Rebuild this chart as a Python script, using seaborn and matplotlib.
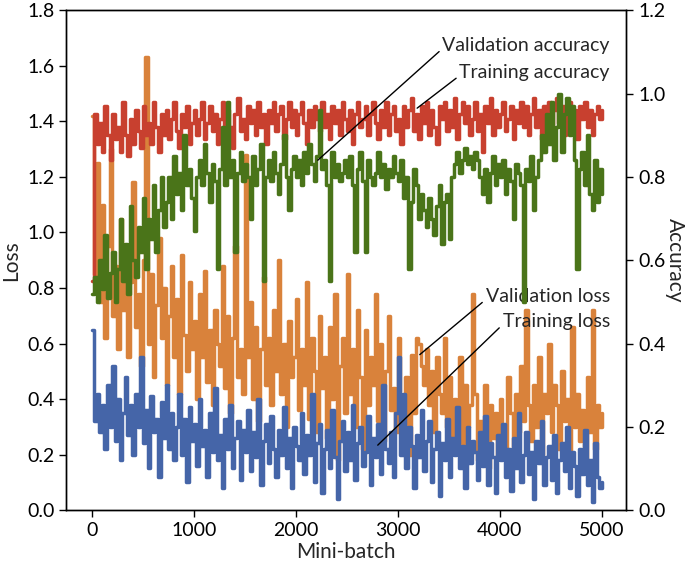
import numpy as np
import pandas as pd
import matplotlib
matplotlib.use('Agg')
import matplotlib.pyplot as plt
import seaborn as sns

# ===== Data (one value every 25 mini-batches) =====
STEP = 25

train_loss = [
    0.65, 0.32, 0.42, 0.28, 0.38, 0.22, 0.45, 0.30, 0.52, 0.25,
    0.40, 0.18, 0.35, 0.48, 0.27, 0.38, 0.20, 0.42, 0.30, 0.55,
    0.24, 0.36, 0.15, 0.41, 0.28, 0.33, 0.12, 0.39, 0.26, 0.45,
    0.22, 0.35, 0.18, 0.30, 0.42, 0.20, 0.33, 0.10, 0.37, 0.25,
    0.31, 0.16, 0.40, 0.23, 0.29, 0.12, 0.35, 0.21, 0.44, 0.18,
    0.27, 0.08, 0.33, 0.22, 0.38, 0.15, 0.26, 0.32, 0.11, 0.29,
    0.21, 0.36, 0.14, 0.28, 0.19, 0.40, 0.09, 0.25, 0.31, 0.17,
    0.34, 0.22, 0.12, 0.29, 0.20, 0.37, 0.15, 0.26, 0.08, 0.30,
    0.23, 0.18, 0.35, 0.13, 0.27, 0.20, 0.42, 0.10, 0.24, 0.31,
    0.06, 0.22, 0.29, 0.15, 0.36, 0.19, 0.04, 0.25, 0.32, 0.14,
    0.28, 0.18, 0.38, 0.11, 0.24, 0.30, 0.16, 0.21, 0.34, 0.09,
    0.26, 0.19, 0.31, 0.13, 0.45, 0.22, 0.17, 0.28, 0.12, 0.35,
    0.55, 0.20, 0.42, 0.15, 0.30, 0.23, 0.08, 0.27, 0.19, 0.36,
    0.14, 0.25, 0.32, 0.10, 0.22, 0.28, 0.05, 0.24, 0.18, 0.33,
    0.12, 0.26, 0.20, 0.37, 0.15, 0.23, 0.08, 0.30, 0.17, 0.25,
    0.21, 0.11, 0.28, 0.16, 0.34, 0.09, 0.24, 0.19, 0.06, 0.27,
    0.18, 0.31, 0.12, 0.22, 0.07, 0.26, 0.15, 0.35, 0.10, 0.20,
    0.28, 0.13, 0.21, 0.04, 0.25, 0.17, 0.32, 0.09, 0.19, 0.23,
    0.11, 0.27, 0.06, 0.18, 0.24, 0.14, 0.30, 0.08, 0.21, 0.16,
    0.05, 0.22, 0.13, 0.29, 0.09, 0.18, 0.03, 0.24, 0.12, 0.08,
    0.10,
]

val_loss = [
    1.42, 0.85, 1.25, 0.75, 1.10, 0.62, 0.95, 1.30, 0.70, 0.88,
    0.58, 1.05, 0.72, 0.92, 0.55, 0.82, 1.18, 0.66, 0.78, 0.52,
    0.90, 1.63, 0.60, 0.85, 0.48, 0.74, 0.98, 0.62, 0.80, 0.45,
    0.70, 0.88, 0.55, 0.76, 0.42, 0.92, 0.63, 0.50, 0.82, 0.58,
    0.68, 0.40, 0.78, 0.55, 0.86, 0.46, 0.65, 0.38, 0.72, 0.60,
    0.52, 0.88, 0.44, 0.70, 0.35, 0.62, 0.95, 0.48, 0.58, 0.42,
    1.28, 0.55, 0.75, 0.40, 0.66, 0.32, 0.58, 0.84, 0.45, 0.62,
    0.38, 0.72, 0.50, 0.90, 0.42, 0.60, 0.30, 0.68, 0.48, 0.55,
    0.76, 0.36, 0.58, 0.45, 0.82, 0.33, 0.62, 0.50, 0.28, 0.70,
    0.44, 0.55, 0.26, 0.66, 0.40, 0.78, 0.18, 0.52, 0.62, 0.35,
    0.85, 0.42, 0.58, 0.30, 0.72, 0.48, 0.22, 0.65, 0.38, 0.55,
    0.45, 0.78, 0.32, 0.60, 0.25, 0.50, 0.70, 0.36, 0.44, 0.28,
    0.62, 0.40, 0.30, 0.48, 0.20, 0.56, 0.35, 0.62, 0.60, 0.52,
    0.45, 0.58, 0.38, 0.50, 0.28, 0.55, 0.42, 0.35, 0.62, 0.30,
    0.48, 0.25, 0.40, 0.34, 0.55, 0.22, 0.45, 0.30, 0.38, 0.78,
    0.42, 0.18, 0.32, 0.28, 0.45, 0.15, 0.38, 0.26, 0.35, 0.20,
    0.40, 0.30, 0.22, 0.48, 0.35, 0.18, 0.42, 0.28, 0.52, 0.32,
    0.72, 0.38, 0.25, 0.45, 0.30, 0.55, 0.20, 0.42, 0.35, 0.60,
    0.28, 0.45, 0.38, 0.22, 0.50, 0.32, 0.40, 0.18, 0.66, 0.30,
    0.42, 0.25, 0.36, 0.15, 0.48, 0.28, 0.72, 0.22, 0.38, 0.30,
    0.35,
]

train_acc = [
    0.55, 0.95, 0.88, 0.93, 0.86, 0.97, 0.90, 0.84, 0.95, 0.89,
    0.92, 0.86, 0.98, 0.90, 0.85, 0.94, 0.88, 0.96, 0.91, 0.87,
    0.97, 0.90, 0.93, 0.88, 0.98, 0.92, 0.86, 0.95, 0.90, 0.96,
    0.89, 0.94, 0.98, 0.91, 0.87, 0.95, 0.92, 0.97, 0.88, 0.93,
    0.96, 0.90, 0.94, 0.98, 0.89, 0.93, 0.97, 0.91, 0.95, 0.88,
    0.94, 0.98, 0.90, 0.96, 0.92, 0.87, 0.95, 0.99, 0.91, 0.94,
    0.89, 0.97, 0.93, 0.96, 0.90, 0.98, 0.92, 0.95, 0.88, 0.96,
    0.93, 0.98, 0.91, 0.95, 0.97, 0.89, 0.94, 0.98, 0.92, 0.96,
    0.90, 0.95, 0.98, 0.93, 0.88, 0.96, 0.92, 0.97, 0.94, 0.91,
    0.98, 0.92, 0.95, 0.89, 0.97, 0.93, 0.96, 0.90, 0.98, 0.94,
    0.91, 0.96, 0.88, 0.95, 0.98, 0.92, 0.94, 0.97, 0.90, 0.95,
    0.98, 0.93, 0.89, 0.96, 0.92, 0.98, 0.90, 0.95, 0.97, 0.91,
    0.94, 0.88, 0.97, 0.92, 0.96, 0.99, 0.91, 0.95, 0.89, 0.97,
    0.93, 0.98, 0.90, 0.96, 0.92, 0.88, 0.97, 0.94, 0.98, 0.91,
    0.96, 0.92, 0.99, 0.89, 0.95, 0.98, 0.93, 0.97, 0.90, 0.94,
    0.98, 0.91, 0.95, 0.86, 0.97, 0.93, 0.99, 0.90, 0.96, 0.92,
    0.95, 0.98, 0.91, 0.94, 0.97, 0.89, 0.96, 0.93, 0.98, 0.92,
    0.97, 0.90, 0.95, 0.99, 0.92, 0.96, 0.89, 0.97, 0.94, 0.98,
    0.91, 0.96, 0.99, 0.93, 0.97, 0.90, 0.95, 0.98, 0.92, 0.96,
    0.89, 0.97, 0.94, 0.98, 0.92, 0.96, 0.90, 0.95, 0.97, 0.94,
    0.96,
]

val_acc = [
    0.52, 0.56, 0.50, 0.60, 0.53, 0.66, 0.51, 0.57, 0.62, 0.50,
    0.58, 0.70, 0.55, 0.64, 0.52, 0.73, 0.60, 0.56, 0.68, 0.62,
    0.75, 0.58, 0.70, 0.65, 0.78, 0.62, 0.72, 0.80, 0.68, 0.74,
    0.80, 0.70, 0.85, 0.76, 0.81, 0.72, 0.90, 0.78, 0.82, 0.75,
    0.67, 0.80, 0.84, 0.78, 0.88, 0.81, 0.74, 0.83, 0.79, 0.58,
    0.82, 0.92, 0.78, 0.98, 0.80, 0.84, 0.62, 0.81, 0.86, 0.79,
    0.83, 0.80, 0.70, 0.85, 0.78, 0.82, 0.88, 0.55, 0.80, 0.84,
    0.79, 0.86, 0.81, 0.76, 0.83, 0.90, 0.80, 0.72, 0.82, 0.85,
    0.80, 0.84, 0.78, 0.86, 0.81, 0.88, 0.83, 0.79, 0.85, 0.96,
    0.82, 0.84, 0.78, 0.55, 0.86, 0.80, 0.83, 0.79, 0.81, 0.84,
    0.80, 0.85, 0.78, 0.62, 0.82, 0.86, 0.79, 0.62, 0.84, 0.80,
    0.78, 0.81, 0.86, 0.80, 0.83, 0.77, 0.82, 0.80, 0.85, 0.81,
    0.79, 0.84, 0.75, 0.80, 0.58, 0.74, 0.82, 0.78, 0.70, 0.76,
    0.72, 0.68, 0.75, 0.70, 0.66, 0.73, 0.78, 0.64, 0.74, 0.76,
    0.65, 0.80, 0.83, 0.86, 0.81, 0.84, 0.87, 0.83, 0.85, 0.82,
    0.86, 0.84, 0.80, 0.76, 0.82, 0.74, 0.81, 0.85, 0.78, 0.83,
    0.80, 0.84, 0.76, 0.82, 0.79, 0.70, 0.83, 0.81, 0.78, 0.50,
    0.82, 0.79, 0.85, 0.72, 0.80, 0.84, 0.90, 0.86, 0.95, 0.88,
    0.98, 0.84, 0.92, 1.00, 0.86, 0.95, 0.99, 0.90, 0.97, 0.84,
    0.58, 0.82, 0.86, 0.78, 0.90, 0.76, 0.72, 0.84, 0.74, 0.82,
    0.76,
]

# ===== Style =====
BLUE = '#4565A8'
ORANGE = '#D9823B'
RED = '#C8402F'
GREEN = '#4A7419'
LW = 2.5

sns.set_style('ticks')
plt.rcParams['font.family'] = ['Lato', 'DejaVu Sans']
plt.rcParams['font.size'] = 14
plt.rcParams['axes.linewidth'] = 1.0


def series(values):
    return pd.DataFrame({'batch': np.arange(len(values)) * STEP, 'value': values})


fig = plt.figure(figsize=(6.89, 5.7), dpi=100)
ax = fig.add_axes([0.096, 0.105, 0.813, 0.877])
ax2 = ax.twinx()

sns.lineplot(data=series(val_loss), x='batch', y='value', ax=ax, color=ORANGE,
             lw=LW, drawstyle='steps-post')
sns.lineplot(data=series(train_loss), x='batch', y='value', ax=ax, color=BLUE,
             lw=LW, drawstyle='steps-post')
sns.lineplot(data=series(train_acc), x='batch', y='value', ax=ax2, color=RED,
             lw=LW, drawstyle='steps-post')
sns.lineplot(data=series(val_acc), x='batch', y='value', ax=ax2, color=GREEN,
             lw=LW, drawstyle='steps-post')

ax.set_xlim(-250, 5240)
ax.set_ylim(0, 1.8)
ax2.set_ylim(0, 1.2)
ax.set_xticks([0, 1000, 2000, 3000, 4000, 5000])
ax.set_yticks(np.arange(0, 1.81, 0.2))
ax.set_yticklabels([f'{v:.1f}' for v in np.arange(0, 1.81, 0.2)])
ax2.set_yticks(np.arange(0, 1.21, 0.2))
ax2.set_yticklabels([f'{v:.1f}' for v in np.arange(0, 1.21, 0.2)])

ax.set_xlabel('Mini-batch', fontsize=15, labelpad=2)
ax.set_ylabel('Loss', fontsize=15, labelpad=4)
ax2.set_ylabel('Accuracy', fontsize=15, rotation=270, labelpad=14)

for a in (ax, ax2):
    a.tick_params(labelsize=14, length=5, width=1, colors='black')
    for s in a.spines.values():
        s.set_visible(True)
        s.set_color('black')

# ===== Labels with leader lines =====
line_style = dict(arrowstyle='-', color='black', lw=1.0, shrinkA=0, shrinkB=0, relpos=(0, 0.3))
ax2.annotate('Validation accuracy', xy=(2216, 0.84), xytext=(5078, 1.116),
             ha='right', va='center', fontsize=14, arrowprops=line_style)
ax2.annotate('Training accuracy', xy=(3190, 0.965), xytext=(5078, 1.051),
             ha='right', va='center', fontsize=14, arrowprops=line_style)
ax.annotate('Validation loss', xy=(3216, 0.56), xytext=(5078, 0.770),
            ha='right', va='center', fontsize=14, arrowprops=line_style)
ax.annotate('Training loss', xy=(2804, 0.234), xytext=(5078, 0.680),
            ha='right', va='center', fontsize=14, arrowprops=line_style)

fig.savefig('out.png', dpi=100)
